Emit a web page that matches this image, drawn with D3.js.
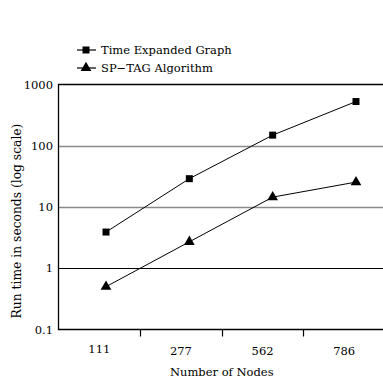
<!DOCTYPE html>
<html>
<head>
<meta charset="utf-8">
<script src="https://d3js.org/d3.v7.min.js"></script>
<style>
  body { margin: 0; background: #fff; }
  svg { display: block; font-family: "DejaVu Serif", serif; }
</style>
</head>
<body>
<div id="chart"></div>
<script>
// data
const nodes = ["111", "277", "562", "786"];
const timeExpanded = [3.9, 29, 149, 527];
const spTag = [0.5, 2.7, 14.5, 25.5];
const yTicks = [0.1, 1, 10, 100, 1000];
const seriesNames = ["Time Expanded Graph", "SP\u2212TAG Algorithm"];

const W = 383, H = 382;
const plotL = 58.5, plotR = 385, plotT = 84.5, plotB = 329.5;
const fontSize = "11.5px";

const svg = d3.select("#chart").append("svg")
    .attr("width", W)
    .attr("height", H);

// scales
const xBand = d3.scaleBand().domain(nodes).range([plotL, plotR]);
const xPoint = d3.scalePoint().domain(nodes).range([106, 356]);
const yScale = d3.scaleLog().domain([0.1, 1000]).range([plotB, plotT]);

// grid lines (10 and 100 are grey, 1 is black)
svg.append("g")
    .selectAll("line")
    .data(yTicks.filter(d => d > 0.1 && d < 1000))
    .enter()
    .append("line")
    .attr("x1", plotL)
    .attr("x2", plotR)
    .attr("y1", d => Math.round(yScale(d)) + 0.5)
    .attr("y2", d => Math.round(yScale(d)) + 0.5)
    .attr("stroke", d => d === 1 ? "#000" : "#8a8a8a")
    .attr("stroke-width", d => d === 1 ? 1.2 : 1.6);

// frame: top, left and bottom
svg.append("path")
    .attr("d", `M${plotR},${plotT}H${plotL}V${plotB}H${plotR}`)
    .attr("fill", "none")
    .attr("stroke", "#000")
    .attr("stroke-width", 1.3);

// y axis labels
svg.append("g")
    .selectAll("text")
    .data(yTicks)
    .enter()
    .append("text")
    .attr("x", 53)
    .attr("y", d => yScale(d) + 4)
    .attr("text-anchor", "end")
    .style("font-size", fontSize)
    .text(d => d);

// x axis ticks at the band boundaries
svg.append("g")
    .selectAll("line")
    .data(nodes.slice(1))
    .enter()
    .append("line")
    .attr("x1", d => Math.round(xBand(d)) + 0.5)
    .attr("x2", d => Math.round(xBand(d)) + 0.5)
    .attr("y1", plotB)
    .attr("y2", plotB + 7)
    .attr("stroke", "#000")
    .attr("stroke-width", 1.2);

svg.append("g")
    .selectAll("text")
    .data(nodes)
    .enter()
    .append("text")
    .attr("x", d => xBand(d) + xBand.bandwidth() / 2)
    .attr("y", (d, i) => i === 0 ? 353 : 355)
    .attr("text-anchor", "middle")
    .style("font-size", fontSize)
    .text(d => d);

// axis titles
svg.append("text")
    .attr("x", (plotL + plotR) / 2)
    .attr("y", 376)
    .attr("text-anchor", "middle")
    .style("font-size", fontSize)
    .text("Number of Nodes");

svg.append("text")
    .attr("transform", `translate(21, 221) rotate(-90)`)
    .attr("text-anchor", "middle")
    .style("font-size", "12.3px")
    .text("Run time in seconds (log scale)");

// series
const line = d3.line()
    .x((d, i) => xPoint(nodes[i]))
    .y(d => yScale(d));

const square = d3.symbol().type(d3.symbolSquare).size(49);
const triangle = d3.symbol().type(d3.symbolTriangle).size(50);

[[timeExpanded, square], [spTag, triangle]].forEach(([vals, sym]) => {
    svg.append("path")
        .attr("d", line(vals))
        .attr("fill", "none")
        .attr("stroke", "#000")
        .attr("stroke-width", 1);

    svg.append("g")
        .selectAll("path")
        .data(vals)
        .enter()
        .append("path")
        .attr("d", sym)
        .attr("transform", (d, i) => `translate(${xPoint(nodes[i])}, ${yScale(d)})`)
        .attr("fill", "#000");
});

// legend
const legend = svg.append("g");
[square, triangle].forEach((sym, i) => {
    const y = 50 + i * 18;
    legend.append("line")
        .attr("x1", 77).attr("x2", 96)
        .attr("y1", y).attr("y2", y)
        .attr("stroke", "#000")
        .attr("stroke-width", 1.2);
    legend.append("path")
        .attr("d", sym)
        .attr("transform", `translate(86, ${y})`)
        .attr("fill", "#000");
    legend.append("text")
        .attr("x", 101)
        .attr("y", y + 4)
        .style("font-size", fontSize)
        .text(seriesNames[i]);
});
</script>
</body>
</html>
